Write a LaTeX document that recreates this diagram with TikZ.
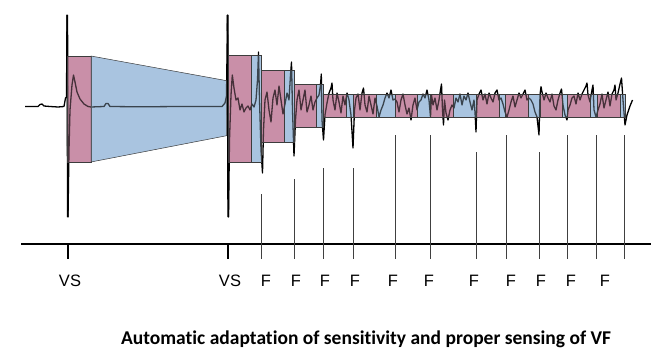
\documentclass[tikz,border=0pt]{standalone}
\usepackage{fontspec}
\setmainfont{Liberation Sans}
\newfontfamily\titlefont[Ligatures=NoCommon]{Carlito}
\definecolor{refrpink}{RGB}{201,143,168}
\definecolor{sensblue}{RGB}{169,196,224}
\definecolor{boxedge}{RGB}{60,60,60}
\begin{document}
\begin{tikzpicture}[x=1pt, y=-1pt,
            pinkbox/.style={fill=refrpink},
            bluebox/.style={fill=sensblue},
            tintpink/.style={fill=refrpink, fill opacity=0.35, draw=boxedge, line width=0.5pt},
            tintblue/.style={fill=sensblue, fill opacity=0.35, draw=boxedge, line width=0.5pt},
            trace/.style={line width=1.3pt, line join=round, black},
            spike/.style={line width=1.8pt, black},
            marker/.style={line width=0.6pt, black!75},
            lab/.style={font=\fontsize{16.5}{16.5}\selectfont, inner sep=0pt}
        ]
        \useasboundingbox (0,0) rectangle (672,364);

        % refractory and sensing windows
        \fill[pinkbox] (67.7,56) rectangle (91,162);
        \fill[bluebox] (91,56) -- (226.7,80.7) -- (226.7,135.7) -- (91,162) -- cycle;
        \foreach \s/\n/\t/\b in {228.3/261.7/55/162, 261.7/294/70/142, 294/323.3/84.3/127.7,
                323.3/353.3/94.3/117.3, 353.3/395/94.3/117.3, 395/430.7/94.3/117.3,
                430.7/476.7/94.3/117.3, 476.7/505.7/94.3/117.3, 505.7/540/94.3/117.3,
                540/567.3/94.3/117.3, 567.3/597.3/94.3/117.3, 597.3/625.3/94.3/117.3}{
            \fill[pinkbox] (\s,\t) rectangle (\s+22.5,\b);
            \fill[bluebox] (\s+22.5,\t) rectangle (\n,\b);
        }

        \draw[trace] plot coordinates {(25,106.5) (38,106.5) (40,104.5) (42,104) (44,106) (50,106.5)
            (58,107) (64,106.5) (65.5,98) (66.5,97) (67,15) (68,217) (69,150) (70,110) (72,85)
            (73.5,75) (75,82) (77,92) (80,99) (84,104) (88,106.5) (91,107) (104,106.5) (106,103.5)
            (108,103.5) (110,106.5) (140,106.8) (180,106.5) (222,106.5) (225,103) (226.5,96)
            (227.5,15) (228.5,217) (229.5,140) (231,95) (232.3,75) (234,88) (236,100) (238,98)
            (240,110) (242,104) (244,112) (246,108) (248,106) (250,110) (252,104) (254,107)
            (256,100) (257.5,80) (258.5,52) (259.5,100) (261,150) (262.5,173) (263.5,130) (265,100)
            (267,92) (269,110) (271,122) (273,98) (275,90) (277,105) (279,86) (281,100) (283,114)
            (285,104) (287,93) (289,100) (290.5,75) (291.5,62) (292.5,110) (294,156) (295.5,120)
            (297,100) (299,90) (301,110) (303,100) (305,90) (307,112) (309,105) (311,96) (313,110)
            (315,102) (317,98) (319,95) (320.5,85) (321.3,74) (322,120) (323.5,140) (325,115)
            (327,103) (329,93) (331,88) (332,83) (333,100) (335,110) (337,93) (339,102) (341,113)
            (343,96) (345,105) (347,93) (349,100) (351,115) (353,148) (354.5,110) (356,98) (358,94)
            (360,110) (362,93) (363.5,88) (365,105) (367,112) (369,96) (371,105) (373,114) (375,98)
            (377,106) (379,117) (381,110) (383,105) (385,98) (387,93) (389,98) (391,90) (393,100)
            (395,99) (397,102) (399,112) (401,100) (403,94) (405,105) (407,114) (409,108) (411,120)
            (413,105) (415,98) (417,110) (419,102) (421,100) (423,94) (425,98) (427,90) (429,100)
            (430.5,117) (431.5,95) (433,105) (435,98) (437,110) (439,100) (440.5,90) (441.5,84)
            (442.5,110) (443.5,125) (444.5,100) (446,113) (448,120) (450,110) (452,105) (454,108)
            (456,98) (458,102) (460,94) (462,105) (464,96) (466,100) (468,93) (470,102) (472,110)
            (474,100) (475,112) (476,132) (477,100) (479,94) (481,90) (483,100) (485,94) (487,104)
            (489,93) (491,98) (493,102) (495,93) (497,90) (499,100) (501,98) (503,104) (505,112)
            (507,117) (509,110) (511,102) (513,96) (515,107) (517,100) (519,93) (521,98) (523,94)
            (525,90) (527,100) (529,98) (531,100) (533,104) (535,112) (537,117) (539,135) (540,95)
            (541,86.7) (542,92) (544,100) (546,93) (548,98) (550,102) (552,94) (554,106) (556,110)
            (558,100) (560,93) (561.5,89) (563,105) (565,115) (567,120) (568,110) (570,105)
            (572,98) (574,96) (576,104) (578,93) (580,100) (582,94) (584,90) (586,86) (587,83)
            (588,95) (590,102) (592,90) (593,85) (594,110) (596,117) (598,110) (600,104) (602,94)
            (604,108) (606,100) (608,92) (610,106) (612,94) (614,90) (615,85) (616,100) (618,93)
            (620,84) (621.5,78) (623,100) (625,125) (627,115) (630,106) (632.5,100)};
        \draw[spike] (67.3,15) -- (67.8,217)
            (227.6,15) -- (228.2,217);

        \draw[tintpink] (67.7,56) rectangle (91,162);
        \draw[tintblue] (91,56) -- (226.7,80.7) -- (226.7,135.7) -- (91,162) -- cycle;
        \foreach \s/\n/\t/\b in {228.3/261.7/55/162, 261.7/294/70/142, 294/323.3/84.3/127.7,
                323.3/353.3/94.3/117.3, 353.3/395/94.3/117.3, 395/430.7/94.3/117.3,
                430.7/476.7/94.3/117.3, 476.7/505.7/94.3/117.3, 505.7/540/94.3/117.3,
                540/567.3/94.3/117.3, 567.3/597.3/94.3/117.3, 597.3/625.3/94.3/117.3}{
            \draw[tintpink] (\s,\t) rectangle (\s+22.5,\b);
            \draw[tintblue] (\s+22.5,\t) rectangle (\n,\b);
        }

        % time axis with sensed events
        \draw[line width=1.8pt] (21,244) -- (651,244);
        \draw[spike] (68,244) -- (68,259)
            (228,244) -- (228,259);
        \foreach \x/\t in {261.5/194, 294/179, 323.5/168, 353.3/168, 395/135, 430.7/135,
                476/152, 506/135, 539.7/152, 567.5/135, 596.7/135, 624.5/135}
            \draw[marker] (\x,\t) -- (\x,259);

        \node [lab] (VSa) at (70,281) {VS};
        \node [lab] (VSb) at (230,281) {VS};
        \foreach \x [count=\i] in {266,296,325,355,393,429,474,511,541,571,605}
            \node [lab] (F\i) at (\x,281) {F};

        \node [font=\titlefont\bfseries\fontsize{19.5}{20}\selectfont] (Title) at (366,339)
            {Automatic adaptation of sensitivity and proper sensing of VF};
        \end{tikzpicture}
\end{document}
